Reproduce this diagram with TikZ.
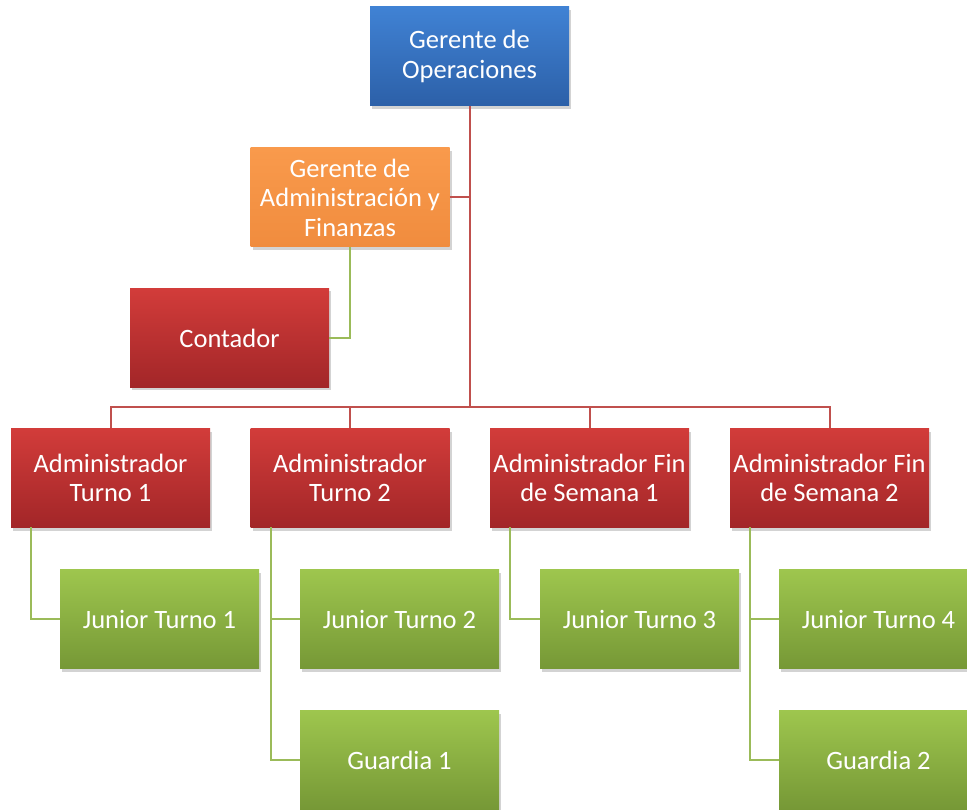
\documentclass[tikz,border=0pt]{standalone}
\usepackage{fontspec}
\setmainfont{Carlito}
\usetikzlibrary{shadows}
\definecolor{blueTop}{RGB}{64,130,212}
\definecolor{blueBot}{RGB}{44,96,168}
\definecolor{orangeTop}{RGB}{249,154,76}
\definecolor{orangeBot}{RGB}{240,140,62}
\definecolor{redTop}{RGB}{210,60,58}
\definecolor{redBot}{RGB}{162,38,40}
\definecolor{greenTop}{RGB}{158,198,78}
\definecolor{greenBot}{RGB}{118,152,54}
\definecolor{redLine}{RGB}{192,80,77}
\definecolor{greenLine}{RGB}{155,187,89}
\tikzset{
  orgbox/.style={minimum width=199pt, minimum height=99pt,
    align=center, text=white, inner sep=0pt,
    font=\fontsize{26.5}{29.5}\selectfont,
    drop shadow={shadow xshift=2pt, shadow yshift=-3pt, opacity=0.35}},
  bluebox/.style={orgbox, top color=blueTop, bottom color=blueBot},
  orangebox/.style={orgbox, top color=orangeTop, bottom color=orangeBot},
  redbox/.style={orgbox, top color=redTop, bottom color=redBot},
  greenbox/.style={orgbox, top color=greenTop, bottom color=greenBot},
  redlink/.style={draw=redLine, line width=2pt},
  greenlink/.style={draw=greenLine, line width=2pt},
}
\begin{document}
\begin{tikzpicture}[x=1pt, y=-1pt]
  \useasboundingbox (0,0) rectangle (967,810);
  \clip (0,0) rectangle (967,810);

  % boxes
  \node[bluebox] (ops) at (469.5,56.5) {Gerente de\\Operaciones};
  \node[orangebox] (gaf) at (350,197.5) {Gerente de\\Administración y\\Finanzas};
  \node[redbox] (cont) at (229.5,338) {Contador};

  \node[redbox] (a1) at (110.5,478) {Administrador\\Turno 1};
  \node[redbox] (a2) at (350,478) {Administrador\\Turno 2};
  \node[redbox] (f1) at (589.5,478) {Administrador Fin\\de Semana 1};
  \node[redbox] (f2) at (829.5,478) {Administrador Fin\\de Semana 2};

  \node[greenbox] (j1) at (159.5,619) {Junior Turno 1};
  \node[greenbox] (j2) at (399.5,619) {Junior Turno 2};
  \node[greenbox] (j3) at (639.5,619) {Junior Turno 3};
  \node[greenbox] (j4) at (878.5,619) {Junior Turno 4};
  \node[greenbox] (g1) at (399.5,760) {Guardia 1};
  \node[greenbox] (g2) at (878.5,760) {Guardia 2};

  % bend points of the connectors
  \coordinate (bus) at (469.5,407);
  \coordinate (a1d) at (31,527);
  \coordinate (a2d) at (271,527);
  \coordinate (f1d) at (510,527);
  \coordinate (f2d) at (750,527);

  % main trunk and admin bus
  \draw[redlink] (ops.south) -- (bus);
  \draw[redlink] (a1.north) |- (bus) -| (f2.north);
  \draw[redlink] (a2.north) -- (a2.north |- bus);
  \draw[redlink] (f1.north) -- (f1.north |- bus);
  \draw[redlink] (gaf.east) -- (gaf.east -| bus);

  % finance manager to accountant
  \draw[greenlink] (gaf.south) |- (cont.east);

  % admins to their staff
  \draw[greenlink] (a1d) |- (j1.west);
  \draw[greenlink] (a2d) |- (g1.west);
  \draw[greenlink] (j2.west -| a2d) -- (j2.west);
  \draw[greenlink] (f1d) |- (j3.west);
  \draw[greenlink] (f2d) |- (g2.west);
  \draw[greenlink] (j4.west -| f2d) -- (j4.west);
\end{tikzpicture}
\end{document}
